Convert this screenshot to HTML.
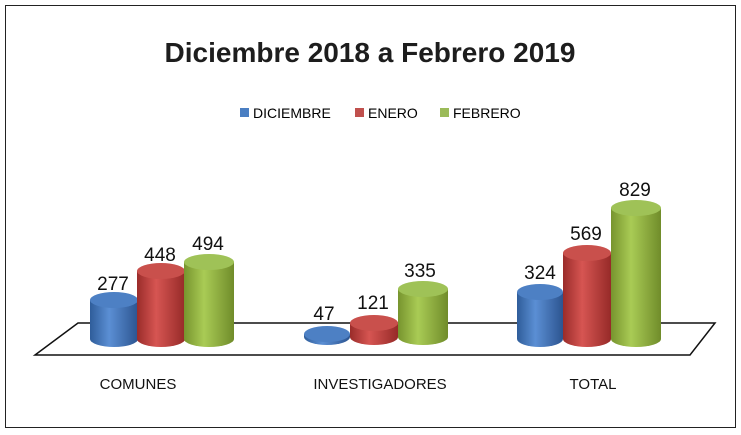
<!DOCTYPE html>
<html><head><meta charset="utf-8"><style>body{margin:0;background:#fff}svg{display:block}</style></head><body>
<svg width="741" height="435" xmlns="http://www.w3.org/2000/svg" font-family="Liberation Sans, sans-serif">
<defs>
<linearGradient id="b" x1="0" x2="1"><stop offset="0" stop-color="#2f5d9a"/><stop offset=".4" stop-color="#5b8fd4"/><stop offset="1" stop-color="#2c5490"/></linearGradient>
<linearGradient id="r" x1="0" x2="1"><stop offset="0" stop-color="#9a2c2a"/><stop offset=".4" stop-color="#d65552"/><stop offset="1" stop-color="#962a28"/></linearGradient>
<linearGradient id="g" x1="0" x2="1"><stop offset="0" stop-color="#77942e"/><stop offset=".4" stop-color="#a9cb55"/><stop offset="1" stop-color="#708c2a"/></linearGradient>
</defs>
<rect x="5.5" y="5.5" width="730" height="422" fill="#fff" stroke="#222"/>
<text x="370" y="62" text-anchor="middle" font-size="28" font-weight="bold" fill="#1d1d1d">Diciembre 2018 a Febrero 2019</text>
<rect x="240" y="108" width="9" height="9" fill="#4a7ec2"/><text x="253" y="118" font-size="14">DICIEMBRE</text>
<rect x="355" y="108" width="9" height="9" fill="#c0504d"/><text x="368" y="118" font-size="14">ENERO</text>
<rect x="440" y="108" width="9" height="9" fill="#9bbb59"/><text x="453" y="118" font-size="14">FEBRERO</text>
<polygon points="78,323 715,323 690,355 35,355" fill="#fff" stroke="#111" stroke-width="1.5"/>
<g>
<path d="M90,300 V339 A24,8 0 0 0 138,339 V300 Z" fill="url(#b)"/><ellipse cx="114" cy="300" rx="24" ry="8" fill="#4d80c4"/>
<path d="M137,271 V339 A24,8 0 0 0 185,339 V271 Z" fill="url(#r)"/><ellipse cx="161" cy="271" rx="24" ry="8" fill="#c9504c"/>
<path d="M184,262 V339 A25,8 0 0 0 234,339 V262 Z" fill="url(#g)"/><ellipse cx="209" cy="262" rx="25" ry="8" fill="#9fc257"/>
<path d="M304,334 V337 A23,8 0 0 0 350,337 V334 Z" fill="url(#b)"/><ellipse cx="327" cy="334" rx="23" ry="8" fill="#4d80c4"/>
<path d="M350,323 V337 A24,8 0 0 0 398,337 V323 Z" fill="url(#r)"/><ellipse cx="374" cy="323" rx="24" ry="8" fill="#c9504c"/>
<path d="M398,289 V337 A25,8 0 0 0 448,337 V289 Z" fill="url(#g)"/><ellipse cx="423" cy="289" rx="25" ry="8" fill="#9fc257"/>
<path d="M517,292 V339 A23,8 0 0 0 563,339 V292 Z" fill="url(#b)"/><ellipse cx="540" cy="292" rx="23" ry="8" fill="#4d80c4"/>
<path d="M563,253 V339 A24,8 0 0 0 611,339 V253 Z" fill="url(#r)"/><ellipse cx="587" cy="253" rx="24" ry="8" fill="#c9504c"/>
<path d="M611,208 V339 A25,8 0 0 0 661,339 V208 Z" fill="url(#g)"/><ellipse cx="636" cy="208" rx="25" ry="8" fill="#9fc257"/>
</g>
<g font-size="19" text-anchor="middle" fill="#111">
<text x="113" y="290">277</text><text x="160" y="261">448</text><text x="208" y="250">494</text>
<text x="324" y="320">47</text><text x="373" y="309">121</text><text x="420" y="277">335</text>
<text x="540" y="279">324</text><text x="586" y="240">569</text><text x="635" y="196">829</text>
</g>
<g font-size="15" text-anchor="middle" fill="#111">
<text x="138" y="389">COMUNES</text><text x="380" y="389">INVESTIGADORES</text><text x="593" y="389">TOTAL</text>
</g>
</svg>
</body></html>
